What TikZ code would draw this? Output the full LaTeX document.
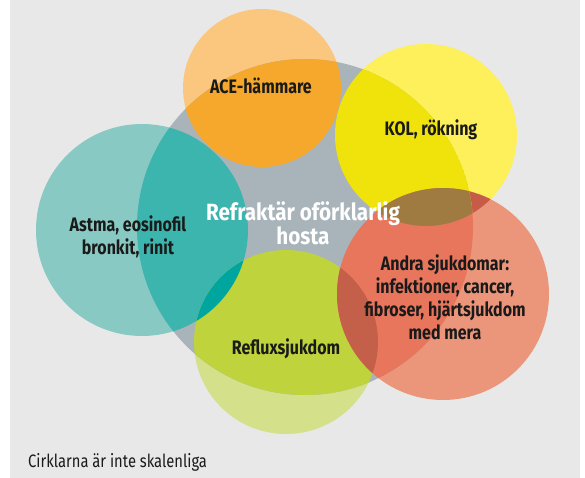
\documentclass[tikz,border=0pt]{standalone}
\usepackage{fontspec}
\setmainfont[FakeStretch=0.82]{Fira Sans}
\newfontfamily\corefont[FakeStretch=0.88]{Fira Sans}
\usetikzlibrary{positioning}

\definecolor{bggray}{HTML}{E8E8E8}
\definecolor{coregray}{HTML}{A8B4BA}
\definecolor{ink}{HTML}{1A1A1A}
\definecolor{aceLight}{HTML}{FBC77F}
\definecolor{aceDeep}{HTML}{F6A82D}
\definecolor{kolLight}{HTML}{FEF05A}
\definecolor{kolDeep}{HTML}{EFE30B}
\definecolor{astmaLight}{HTML}{88CAC3}
\definecolor{astmaDeep}{HTML}{3BB5AD}
\definecolor{astmaReflux}{HTML}{00A59D}
\definecolor{refluxLight}{HTML}{D4E08A}
\definecolor{refluxDeep}{HTML}{BFD33C}
\definecolor{andraLight}{HTML}{EB967A}
\definecolor{andraDeep}{HTML}{E8765C}
\definecolor{andraKolOut}{HTML}{C65C47}
\definecolor{andraKolIn}{HTML}{9F7B42}
\definecolor{andraReflux}{HTML}{C4604A}

% circle paths (pixel coordinates, y downwards)
\newcommand\coreC{(305,227) circle[radius=168pt]}
\newcommand\aceC{(262,88) circle[radius=79pt]}
\newcommand\kolC{(426,135) circle[radius=91pt]}
\newcommand\astmaC{(142,230) circle[radius=106pt]}
\newcommand\refluxC{(286,342) circle[radius=92pt]}
\newcommand\andraC{(443,294) circle[radius=106pt]}

\begin{document}
\begin{tikzpicture}[
  x=1pt, y=-1pt,
  lbl/.style={align=center, inner sep=0pt, text=ink, font=\fontsize{19.5}{23}\selectfont\bfseries},
  corelbl/.style={align=center, inner sep=0pt, text=white, font=\corefont\fontsize{23.5}{24}\selectfont\bfseries},
  notelbl/.style={anchor=west, inner sep=0pt, text=ink, font=\fontsize{18}{20}\selectfont}
]
\useasboundingbox (0,0) rectangle (585,478);
\fill[bggray] (10,0) rectangle (580,478);

% outer, lighter parts
\fill[aceLight] \aceC;
\fill[kolLight] \kolC;
\fill[astmaLight] \astmaC;
\fill[refluxLight] \refluxC;
\fill[andraLight] \andraC;
\begin{scope}
  \clip \kolC;
  \fill[andraKolOut] \andraC;
\end{scope}
\begin{scope}
  \clip \refluxC;
  \fill[andraReflux] \andraC;
\end{scope}

% parts inside the central circle
\begin{scope}
  \clip \coreC;
  \fill[coregray] \coreC;
  \fill[aceDeep] \aceC;
  \fill[kolDeep] \kolC;
  \fill[astmaDeep] \astmaC;
  \fill[refluxDeep] \refluxC;
  \fill[andraDeep] \andraC;
  \begin{scope}
    \clip \astmaC;
    \fill[astmaReflux] \refluxC;
  \end{scope}
  \begin{scope}
    \clip \kolC;
    \fill[andraKolIn] \andraC;
  \end{scope}
  \begin{scope}
    \clip \refluxC;
    \fill[andraReflux] \andraC;
  \end{scope}
\end{scope}

% labels
\node[corelbl] (core) at (303,223) {Refraktär oförklarlig\\hosta};
\node[lbl] (ace) at (261,86) {ACE-hämmare};
\node[lbl] (kol) at (431,130) {KOL, rökning};
\node[lbl] (astma) at (128,237) {Astma, eosinofil\\bronkit, rinit};
\node[lbl] (reflux) at (286,349) {Refluxsjukdom};
\node[lbl] (andra) at (445,297) {Andra sjukdomar:\\infektioner, cancer,\\fibroser, hjärtsjukdom\\med mera};
\node[notelbl] (note) at (28,462) {Cirklarna är inte skalenliga};
\end{tikzpicture}
\end{document}
